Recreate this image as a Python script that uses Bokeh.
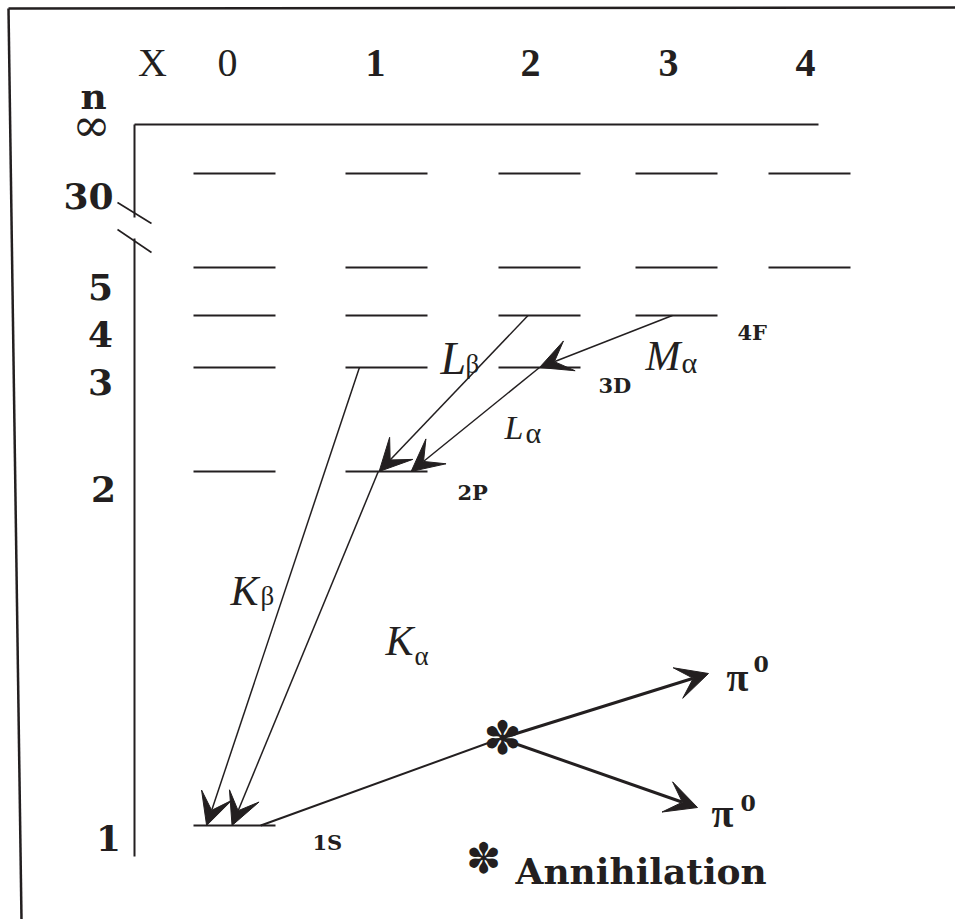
from bokeh.plotting import figure
from bokeh.models import Range1d, Arrow, VeeHead, ColumnDataSource
from bokeh.core.properties import value
from bokeh.embed import file_html
from bokeh.resources import INLINE

INK = "#231f20"

# ---------------- data ----------------
COL_LABELS = ["X", "0", "1", "2", "3", "4"]
COL_LABEL_X = [152, 227, 375, 530, 668, 805]
COL_LABEL_BOLD = [False, False, True, True, True, True]

ROW_LABELS = ["30", "5", "4", "3", "2", "1"]
ROW_LABEL_X = [88, 100, 100, 100, 103, 108]
ROW_LABEL_BASE = [195, 286, 333, 381, 488, 837]

# level positions (vertical position of each principal quantum number n)
LEVEL_N = ["inf", 30, 5, 4, 3, 2, 1]
LEVEL_Y = [124, 173, 267, 315, 367, 471, 825]
# left end of level bars for each orbital index l = 0..4
L_X0 = [193, 345, 498, 635, 768]
L_WIDTH = 82

# transitions: (name, n_from, l_from, frac_from, n_to, l_to, frac_to)
TRANS_NAME = ["Kβ", "Kα", "Lβ", "Lα", "Mα"]
TRANS_N0 = [3, 2, 4, 3, 4]
TRANS_L0 = [1, 1, 2, 2, 3]
TRANS_F0 = [0.17, 0.40, 0.36, 0.50, 0.45]
TRANS_N1 = [1, 1, 2, 2, 3]
TRANS_L1 = [0, 0, 1, 1, 2]
TRANS_F1 = [0.16, 0.47, 0.41, 0.80, 0.50]

ANN_X, ANN_Y = 500, 738
PION_X = [708, 697]
PION_Y = [673, 807]

ny = dict(zip(LEVEL_N, LEVEL_Y))


def lx(l, f):
    return L_X0[l] + f * L_WIDTH


# ---------------- figure ----------------
p = figure(width=955, height=919, x_range=Range1d(0, 955), y_range=Range1d(919, 0),
           output_backend="svg", toolbar_location=None, min_border=0,
           x_axis_location=None, y_axis_location=None)
p.grid.visible = False
p.outline_line_color = None
p.background_fill_color = "white"
p.border_fill_color = "white"

# outer frame
p.line(x=[8, 955], y=[8, 7], line_color=INK, line_width=2.5)
p.line(x=[8, 21], y=[8, 919], line_color=INK, line_width=2.5)

# axes of the diagram
p.line(x=[134, 818], y=[ny["inf"], ny["inf"]], line_color=INK, line_width=2)
p.line(x=[134, 134], y=[ny["inf"], 217], line_color=INK, line_width=2)
p.line(x=[134, 134], y=[238, 856], line_color=INK, line_width=2)
p.segment(x0=[117, 117], y0=[202, 229], x1=[151, 151], y1=[223, 252], line_color=INK, line_width=1.6)

# energy level bars
lev_x0, lev_x1, lev_y = [], [], []
for n in [30, 5, 4, 3, 2, 1]:
    for l in range(5):
        if n == 30 or n == 5 or l < n:
            lev_x0.append(L_X0[l])
            lev_x1.append(L_X0[l] + L_WIDTH)
            lev_y.append(ny[n])
p.segment(x0=lev_x0, y0=lev_y, x1=lev_x1, y1=lev_y, line_color=INK, line_width=2)

# transitions
tsrc = ColumnDataSource(dict(
    x0=[lx(l, f) for l, f in zip(TRANS_L0, TRANS_F0)],
    y0=[ny[n] for n in TRANS_N0],
    x1=[lx(l, f) for l, f in zip(TRANS_L1, TRANS_F1)],
    y1=[ny[n] for n in TRANS_N1],
))
p.add_layout(Arrow(end=VeeHead(size=32, fill_color=INK, line_color=INK, line_width=1),
                   x_start="x0", y_start="y0", x_end="x1", y_end="y1", source=tsrc,
                   line_color=INK, line_width=1.5))

# 1S -> annihilation
p.line(x=[lx(0, 0.82), ANN_X], y=[ny[1], ANN_Y], line_color=INK, line_width=2)

# pions
psrc = ColumnDataSource(dict(x0=[ANN_X, ANN_X], y0=[ANN_Y, ANN_Y], x1=PION_X, y1=PION_Y))
p.add_layout(Arrow(end=VeeHead(size=32, fill_color=INK, line_color=INK, line_width=1),
                   x_start="x0", y_start="y0", x_end="x1", y_end="y1", source=psrc,
                   line_color=INK, line_width=3))


def txt(x, y, s, size, font="Liberation Serif", style="normal", align="left", baseline="alphabetic"):
    p.text(x=[x], y=[y], text=[s], text_font=value(font), text_font_size=f"{size}px",
           text_font_style=style, text_align=align, text_baseline=baseline, text_color=INK)


# column labels
for s, x, b in zip(COL_LABELS, COL_LABEL_X, COL_LABEL_BOLD):
    txt(x, 62, s, 40, style="bold" if b else "normal", align="center")

# row labels
txt(93, 95, "n", 36, font="DejaVu Serif", style="bold", align="center")
txt(91, 124, "∞", 46, font="DejaVu Serif", align="center", baseline="middle")
for s, x, yb in zip(ROW_LABELS, ROW_LABEL_X, ROW_LABEL_BASE):
    txt(x, yb, s, 36, font="DejaVu Serif", style="bold", align="center")

# state labels
txt(737, 332, "4F", 21, font="DejaVu Serif", style="bold")
txt(598, 385, "3D", 21, font="DejaVu Serif", style="bold")
txt(457, 492, "2P", 21, font="DejaVu Serif", style="bold")
txt(312, 842, "1S", 21, font="DejaVu Serif", style="bold")

# transition labels
txt(440, 358, "L", 46, style="italic")
txt(465, 363, "β", 27)
txt(645, 355, "M", 42, style="italic")
txt(681, 362, "α", 30)
txt(504, 427, "L", 34, style="italic")
txt(525, 432, "α", 30)
txt(230, 590, "K", 42, style="italic")
txt(260, 595, "β", 27)
txt(385, 640, "K", 42, style="italic")
txt(414, 655, "α", 27)

# pions
txt(726, 677, "π", 40, style="bold")
txt(753, 663, "0", 22, font="DejaVu Serif", style="bold")
txt(711, 813, "π", 40, style="bold")
txt(740, 802, "0", 22, font="DejaVu Serif", style="bold")

# annihilation marks
txt(502, 737, "✽", 46, font="DejaVu Sans", align="center", baseline="middle")
txt(483, 858, "✽", 42, font="DejaVu Sans", align="center", baseline="middle")
txt(515, 870, "Annihilation", 36, font="DejaVu Serif", style="bold")

open("out.html", "w").write(file_html(p, INLINE))
